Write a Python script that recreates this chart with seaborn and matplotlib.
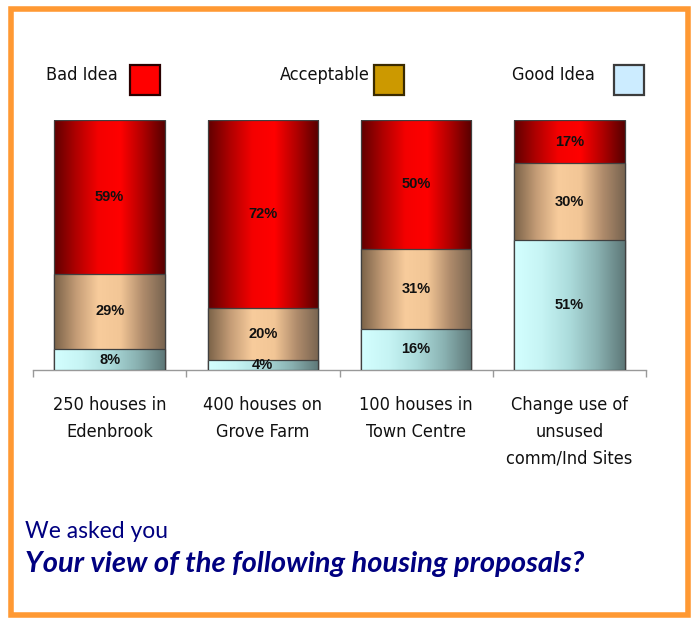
import numpy as np
import pandas as pd
import matplotlib.pyplot as plt
import seaborn as sns
from matplotlib.colors import LinearSegmentedColormap
from matplotlib.patches import Rectangle

# Datos del grafico (porcentajes)
categories = ["250 houses in\nEdenbrook", "400 houses on\nGrove Farm",
              "100 houses in\nTown Centre", "Change use of\nunsused\ncomm/Ind Sites"]
bad_idea = [59, 72, 50, 17]
acceptable = [29, 20, 31, 30]
good_idea = [8, 4, 16, 51]
series_names = ["Bad Idea", "Acceptable", "Good Idea"]

sns.set_style("white")
plt.rcParams['font.family'] = ['DejaVu Sans']

df = pd.DataFrame({"cat": categories, "bad": bad_idea, "acc": acceptable, "good": good_idea})
total = df[["bad", "acc", "good"]].sum(axis=1)
# barras apiladas al 100%
df["good_top"] = df["good"] / total
df["acc_top"] = (df["good"] + df["acc"]) / total
df["bad_top"] = (df["good"] + df["acc"] + df["bad"]) / total

fig = plt.figure(figsize=(6.97, 6.18), dpi=100)
ax = fig.add_axes([33 / 697, 1 - 370 / 618, 613 / 697, 250 / 618])

# degradados horizontales tipo cilindro
gradients = {
    "bad": ["#600000", "#b00000", "#f40000", "#ff0000", "#b00000", "#560000"],
    "acc": ["#7a6248", "#c49c76", "#f8cc9c", "#f2c696", "#b08c6c", "#786450"],
    "good": ["#d4ffff", "#c6f4f4", "#acdcdc", "#8ab2b2", "#5e7878"],
}

layers = [("bad", "bad_top", "acc_top", bad_idea, 1),
          ("acc", "acc_top", "good_top", acceptable, 2),
          ("good", "good_top", None, good_idea, 3)]

grad = np.linspace(0, 1, 256).reshape(1, -1)
for key, top_col, low_col, vals, z in layers:
    n_before = len(ax.patches)
    sns.barplot(x=df["cat"], y=df[top_col], color="white", width=0.72, ax=ax)
    new_patches = ax.patches[n_before:]
    cmap = LinearSegmentedColormap.from_list(key, gradients[key])
    for i, p in enumerate(new_patches):
        x0, w = p.get_x(), p.get_width()
        y0, h = p.get_y(), p.get_height()
        im = ax.imshow(grad, cmap=cmap, extent=[x0, x0 + w, y0, y0 + h],
                       aspect="auto", interpolation="bicubic", zorder=z)
        im.set_clip_path(p)
        p.set_facecolor("none")
        p.set_edgecolor("#404040")
        p.set_linewidth(0.9)
        p.set_zorder(z + 0.5)
        low = df[low_col].iloc[i] if low_col else 0
        ax.text(x0 + w / 2, (low + df[top_col].iloc[i]) / 2, f"{vals[i]}%",
                ha="center", va="center", fontsize=10.5, fontweight="bold",
                family="Liberation Sans", color="#111111", zorder=10)

ax.set_xlim(-0.5, 3.5)
ax.set_ylim(0, 1)
ax.set_xlabel("")
ax.set_ylabel("")
ax.set_yticks([])
sns.despine(ax=ax, left=True, top=True, right=True)
ax.spines["bottom"].set_color("#999999")
ax.spines["bottom"].set_linewidth(1)

ax.set_xticks(range(4))
ax.set_xticklabels(categories, fontsize=13, linespacing=1.6, color="#111111",
                   fontstretch="condensed")
ax.set_xticks(np.arange(-0.5, 4, 1), minor=True)
ax.tick_params(which="major", length=0, pad=19)
ax.tick_params(which="minor", bottom=True, length=5, width=1, color="#999999", direction="out")

# Leyenda manual: texto y cuadro a la derecha
legend_text_x = [46, 280, 512]
legend_box_x = [130, 374, 614]
legend_colors = ["#FF0000", "#CC9900", "#CCECFF"]
legend_edges = ["#2a0000", "#3a2a00", "#3c3c3c"]
for name, tx, bx, fc, ec in zip(series_names, legend_text_x, legend_box_x, legend_colors, legend_edges):
    fig.text(tx / 697, 1 - 75 / 618, name, fontsize=13, va="center", ha="left",
             color="#111111", fontstretch="condensed")
    fig.add_artist(Rectangle((bx / 697, 1 - 95 / 618), 30 / 697, 30 / 618,
                             transform=fig.transFigure, facecolor=fc, edgecolor=ec, lw=1.6))

# Textos de abajo
fig.text(25 / 697, 1 - 532 / 618, "We asked you", fontsize=16.5, color="#000080",
         va="center", ha="left", family="Lato")
fig.text(25 / 697, 1 - 564 / 618, "Your view of the following housing proposals?",
         fontsize=21, fontweight="bold", style="italic", color="#000080",
         va="center", ha="left", family="Lato")

# Marco naranja
fig.add_artist(Rectangle((11 / 697, 1 - 615 / 618), 677 / 697, 606 / 618,
                         transform=fig.transFigure, fill=False, edgecolor="#FF9933", lw=4))

fig.savefig("out.png", dpi=100)
